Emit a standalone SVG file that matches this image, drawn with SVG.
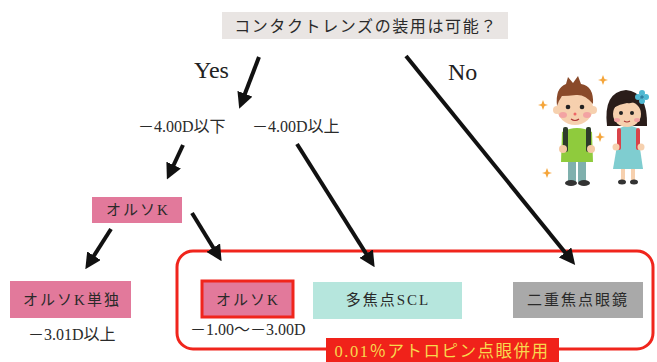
<svg xmlns="http://www.w3.org/2000/svg" width="657" height="362" viewBox="0 0 657 362">
  <style>
    .t { font-family: "Liberation Serif", "Noto Sans CJK JP", serif; fill: #2a2a2a; }
    .jp { font-size: 15px; letter-spacing: 2px; text-anchor: middle; }
    .val { font-size: 16px; }
    .yn { font-family: "Liberation Serif", serif; font-size: 24px; fill: #222; }
    .arrow { stroke: #111; stroke-width: 4; fill: none; marker-end: url(#head); }
  </style>
  <defs>
    <marker id="head" markerWidth="16" markerHeight="16" refX="11" refY="8" orient="auto" markerUnits="userSpaceOnUse">
      <path d="M0,0 L16,8 L0,16 Z" fill="#111"/>
    </marker>
  </defs>

  <rect width="657" height="362" fill="#ffffff"/>

  <!-- question -->
  <g id="question">
    <rect x="222" y="12" width="286" height="27" fill="#e9e5e3"/>
    <text class="t" x="366" y="32" font-size="16" letter-spacing="1.6" text-anchor="middle">コンタクトレンズの装用は可能？</text>
  </g>

  <text class="yn" x="194" y="78">Yes</text>
  <text class="yn" x="448" y="80">No</text>

  <g id="range-low">
    <text class="t val" x="138" y="132">－4.00D以下</text>
  </g>
  <g id="range-high">
    <text class="t val" x="252" y="132">－4.00D以上</text>
  </g>

  <!-- combined therapy frame -->
  <g id="atropine-group">
    <rect x="177" y="251" width="476" height="98" rx="16" fill="none" stroke="#f0251c" stroke-width="3"/>
    <rect x="326" y="338" width="233" height="24" fill="#f0221a"/>
    <text class="t" x="442" y="357" font-size="16.5" letter-spacing="1.5" text-anchor="middle" style="fill:#f8d84e">0.01％アトロピン点眼併用</text>
  </g>

  <g id="orthok">
    <rect x="92" y="197" width="90" height="26" fill="#e2799b"/>
    <text class="t jp" x="138" y="215">オルソK</text>
  </g>

  <g id="orthok-alone">
    <rect x="10" y="281" width="121" height="37" fill="#e2799b"/>
    <text class="t jp" x="72" y="305">オルソK単独</text>
    <text class="t val" x="28" y="340">－3.01D以上</text>
  </g>

  <g id="orthok-combined">
    <rect x="202" y="281" width="91" height="36" fill="#e2799b" stroke="#f0251c" stroke-width="3"/>
    <text class="t jp" x="248" y="305">オルソK</text>
    <text class="t val" x="190" y="335">－1.00～－3.00D</text>
  </g>

  <g id="multifocal-scl">
    <rect x="313" y="282" width="149" height="37" fill="#b6e6dd"/>
    <text class="t jp" x="388" y="305">多焦点SCL</text>
  </g>

  <g id="bifocal-glasses">
    <rect x="513" y="282" width="130" height="36" fill="#a9a9a9"/>
    <text class="t jp" x="578" y="305">二重焦点眼鏡</text>
  </g>

  <!-- connectors -->
  <g id="connectors">
    <line class="arrow" x1="259" y1="57" x2="241" y2="104"/>
    <line class="arrow" x1="406" y1="56" x2="572" y2="261"/>
    <line class="arrow" x1="183" y1="145" x2="169" y2="175"/>
    <line class="arrow" x1="297" y1="144" x2="372" y2="263"/>
    <line class="arrow" x1="111" y1="229" x2="88" y2="265"/>
    <line class="arrow" x1="192" y1="213" x2="219" y2="257"/>
  </g>

  <!-- children -->
  <g id="children">
    <!-- sparkles -->
    <g fill="#f5a53a">
      <path d="M603,75 L604.5,79 L608,80 L604.5,81 L603,85 L601.5,81 L598,80 L601.5,79 Z"/>
      <path d="M543,100 L544.5,104 L548,105 L544.5,106 L543,110 L541.5,106 L538,105 L541.5,104 Z"/>
      <path d="M600,132 L601.5,136 L605,137 L601.5,138 L600,142 L598.5,138 L595,137 L598.5,136 Z"/>
      <path d="M547,168 L548.5,172 L552,173 L548.5,174 L547,178 L545.5,174 L542,173 L545.5,172 Z"/>
    </g>
    <!-- boy -->
    <g id="boy">
      <rect x="568" y="158" width="8" height="24" fill="#7fb0ad"/>
      <rect x="578" y="158" width="8" height="24" fill="#7fb0ad"/>
      <ellipse cx="571" cy="183" rx="6" ry="3" fill="#333"/>
      <ellipse cx="584" cy="183" rx="6" ry="3" fill="#333"/>
      <path d="M562,132 Q577,124 592,132 L593,162 L561,162 Z" fill="#8fcb3d"/>
      <rect x="563" y="127" width="5" height="25" rx="2" fill="#2e3b2b"/>
      <rect x="586" y="127" width="5" height="25" rx="2" fill="#2e3b2b"/>
      <circle cx="563" cy="149" r="4" fill="#f4c9a4"/>
      <circle cx="591" cy="149" r="4" fill="#f4c9a4"/>
      <ellipse cx="575" cy="108" rx="18" ry="17" fill="#f6d0ae"/>
      <circle cx="557" cy="110" r="4" fill="#f6d0ae"/>
      <circle cx="593" cy="110" r="4" fill="#f6d0ae"/>
      <path d="M557,106 Q555,88 566,84 L568,77 L573,83 L578,76 L581,84 Q594,86 593,104 Q585,94 576,95 Q568,96 562,96 Q559,100 557,106 Z" fill="#8a4a2a"/>
      <circle cx="568" cy="107" r="2.3" fill="#222"/>
      <circle cx="582" cy="107" r="2.3" fill="#222"/>
      <circle cx="575" cy="114" r="1.5" fill="#e66"/>
      <ellipse cx="563" cy="115" rx="4" ry="3" fill="#f3a3a3"/>
      <ellipse cx="587" cy="115" rx="4" ry="3" fill="#f3a3a3"/>
      <path d="M571,119 Q575,122 579,119" stroke="#a33" stroke-width="1.2" fill="none"/>
    </g>
    <!-- girl -->
    <g id="girl">
      <rect x="621" y="168" width="4" height="12" fill="#f6d0ae"/>
      <rect x="631" y="168" width="4" height="12" fill="#f6d0ae"/>
      <ellipse cx="622" cy="182" rx="4" ry="2.5" fill="#333"/>
      <ellipse cx="634" cy="182" rx="4" ry="2.5" fill="#333"/>
      <path d="M620,128 Q628,123 637,128 L643,169 L613,169 Z" fill="#7fcdd0"/>
      <rect x="617" y="128" width="4" height="22" rx="2" fill="#d9444a"/>
      <rect x="636" y="128" width="4" height="22" rx="2" fill="#d9444a"/>
      <circle cx="616" cy="147" r="3.5" fill="#f6d0ae"/>
      <circle cx="641" cy="147" r="3.5" fill="#f6d0ae"/>
      <path d="M607,126 Q603,92 626,90 Q648,92 647,126 Z" fill="#2a1d1a"/>
      <ellipse cx="627" cy="114" rx="14" ry="13" fill="#f6d0ae"/>
      <path d="M613,108 Q620,96 640,100 Q633,104 627,103 Q620,104 613,108 Z" fill="#2a1d1a"/>
      <circle cx="621" cy="113" r="2" fill="#222"/>
      <circle cx="632" cy="113" r="2" fill="#222"/>
      <ellipse cx="617" cy="120" rx="3" ry="2" fill="#f3a3a3"/>
      <ellipse cx="637" cy="120" rx="3" ry="2" fill="#f3a3a3"/>
      <path d="M624,121 Q627,123 630,121" stroke="#a33" stroke-width="1.1" fill="none"/>
      <g fill="#4fb8d2">
        <circle cx="642" cy="93" r="3"/>
        <circle cx="646" cy="97" r="3"/>
        <circle cx="642" cy="101" r="3"/>
        <circle cx="638" cy="97" r="3"/>
      </g>
      <circle cx="642" cy="97" r="1.8" fill="#2d7fa0"/>
    </g>
  </g>
</svg>
